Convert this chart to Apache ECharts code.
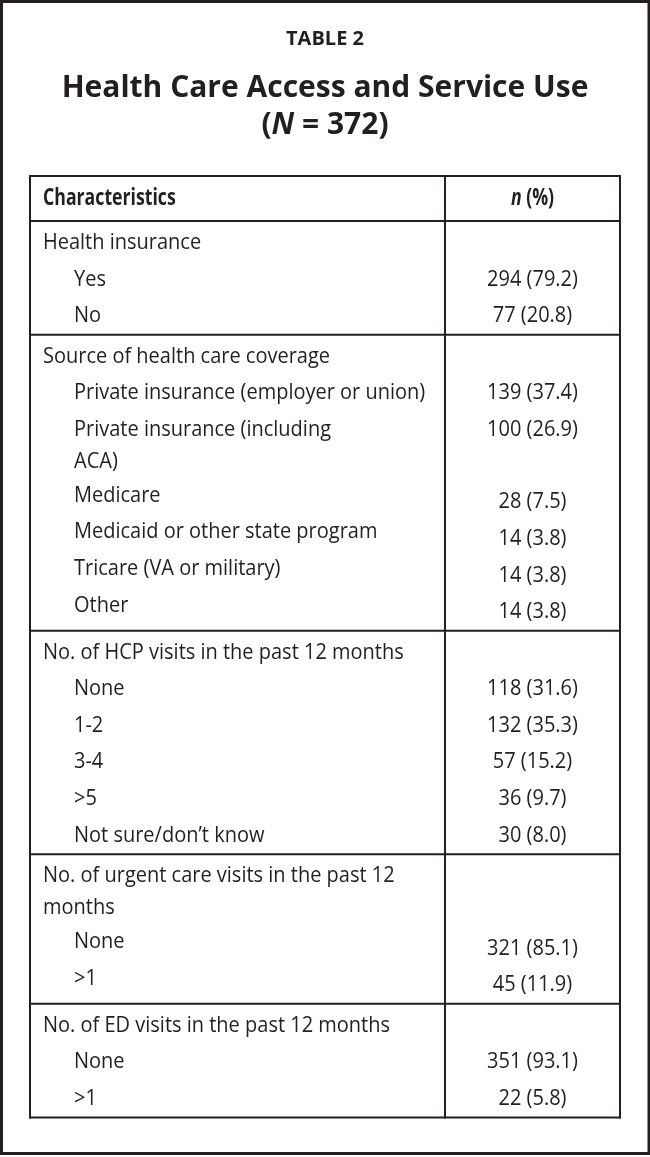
<!DOCTYPE html>
<html><head><meta charset="utf-8">
<script src="https://cdn.jsdelivr.net/npm/echarts@6/dist/echarts.min.js"></script>
<style>html,body{margin:0;padding:0;background:#fff}#c{width:650px;height:1157px}</style>
</head><body><div id="c"></div>
<script>
// ---------- DATA ----------
const tableNumber = 'TABLE 2';
const tableTitle = 'Health Care Access and Service Use';
const sampleSize = 372;
const columnHeaders = ['Characteristics', 'n (%)'];
const groupLabels = [
  'Health insurance',
  'Source of health care coverage',
  'No. of HCP visits in the past 12 months',
  'No. of urgent care visits in the past 12\nmonths',
  'No. of ED visits in the past 12 months'
];
const itemLabels = [
  ['Yes', 'No'],
  ['Private insurance (employer or union)', 'Private insurance (including\nACA)', 'Medicare',
   'Medicaid or other state program', 'Tricare (VA or military)', 'Other'],
  ['None', '1-2', '3-4', '>5', 'Not sure/don\u2019t know'],
  ['None', '>1'],
  ['None', '>1']
];
const itemCounts = [[294, 77], [139, 100, 28, 14, 14, 14], [118, 132, 57, 36, 30], [321, 45], [351, 22]];
const itemPercents = [[79.2, 20.8], [37.4, 26.9, 7.5, 3.8, 3.8, 3.8], [31.6, 35.3, 15.2, 9.7, 8.0], [85.1, 11.9], [93.1, 5.8]];

// ---------- LAYOUT ----------
const L = {
  tableLeft: 30, tableRight: 620, colDiv: 445, tableTop: 176, headerBottom: 221,
  groupX: 43, itemX: 74, valueX: 532.5,
  pitch: 36.6, wrapPitch: 32, afterWrapPitch: 34, sepToText: 22, textToSep: 18.5, wrapValueNudge: 6.5
};
const INK = '#231f20';
const FONT = '"Open Sans", "Noto Sans", sans-serif';
const styles = {
  header: { fontSize: 22.4, fontWeight: 'bold', scaleX: 0.79, align: 'left' },
  headerValue: { fontSize: 22.4, fontWeight: 'bold', scaleX: 0.79, align: 'center' },
  group: { fontSize: 21, fontWeight: 'normal', scaleX: 0.952, align: 'left' },
  item: { fontSize: 21, fontWeight: 'normal', scaleX: 0.952, align: 'left' },
  value: { fontSize: 21, fontWeight: 'normal', scaleX: 0.952, align: 'center' }
};

// ---------- BUILD CELLS ----------
const textCells = [];
const rules = [];
const headerMid = (L.tableTop + L.headerBottom) / 2;
textCells.push({ x: L.groupX, y: headerMid, text: columnHeaders[0], kind: 'header' });
textCells.push({ x: L.valueX, y: headerMid, text: '{i|n} (%)', kind: 'headerValue' });

let sepY = L.headerBottom;
const seps = [];
groupLabels.forEach((g, gi) => {
  let cy = sepY + L.sepToText;
  let wrapped = false;
  let maxY = cy;
  g.split('\n').forEach((line, li) => {
    if (li > 0) { cy += L.wrapPitch; wrapped = true; }
    textCells.push({ x: L.groupX, y: cy, text: line, kind: 'group' });
  });
  maxY = cy;
  let prevWrapped = wrapped;
  itemLabels[gi].forEach((lab, ii) => {
    cy += prevWrapped && ii === 0 || prevWrapped === 'item' ? L.afterWrapPitch : L.pitch;
    if (prevWrapped === 'item') prevWrapped = true;
    const nudge = wrapped ? L.wrapValueNudge : 0;
    const vy = cy + nudge;
    textCells.push({ x: L.valueX, y: vy, text: itemCounts[gi][ii] + ' (' + itemPercents[gi][ii].toFixed(1) + ')', kind: 'value' });
    const lines = lab.split('\n');
    lines.forEach((line, li) => {
      if (li > 0) cy += L.wrapPitch;
      textCells.push({ x: L.itemX, y: cy, text: line, kind: 'item' });
    });
    if (lines.length > 1) { wrapped = true; prevWrapped = 'item'; }
    maxY = Math.max(cy, vy);
  });
  sepY = maxY + L.textToSep;
  seps.push(sepY);
});
const tableBottom = seps[seps.length - 1];

rules.push([L.tableLeft, L.tableTop, L.tableRight, L.tableTop]);
rules.push([L.tableLeft, L.headerBottom, L.tableRight, L.headerBottom]);
seps.forEach(s => rules.push([L.tableLeft, s, L.tableRight, s]));
rules.push([L.tableLeft, L.tableTop, L.tableLeft, tableBottom]);
rules.push([L.colDiv, L.tableTop, L.colDiv, tableBottom]);
rules.push([L.tableRight, L.tableTop, L.tableRight, tableBottom]);

// ---------- CHART ----------
const chart = echarts.init(document.getElementById('c'), null, { renderer: 'canvas' });
chart.setOption({
  animation: false,
  backgroundColor: '#fff',
  grid: { left: 0, right: 0, top: 0, bottom: 0 },
  xAxis: { type: 'value', min: 0, max: 650, show: false, splitLine: { show: false } },
  yAxis: { type: 'value', min: 0, max: 1157, inverse: true, show: false, splitLine: { show: false } },
  graphic: [
    { type: 'rect', shape: { x: 1.5, y: 1.5, width: 647.5, height: 1152 }, style: { fill: 'none', stroke: INK, lineWidth: 3 }, silent: true },
    { type: 'text', x: 325, y: 39, style: { text: tableNumber, fill: INK, fontFamily: FONT, fontSize: 20, fontWeight: 'bold', align: 'center', verticalAlign: 'middle' } },
    { type: 'text', x: 325, y: 88, style: { text: tableTitle, fill: INK, fontFamily: FONT, fontSize: 30, fontWeight: 'bold', align: 'center', verticalAlign: 'middle' } },
    { type: 'text', x: 325, y: 125, style: { text: '({i|N} = ' + sampleSize + ')', fill: INK, fontFamily: FONT, fontSize: 30, fontWeight: 'bold', align: 'center', verticalAlign: 'middle',
      rich: { i: { fontStyle: 'italic', fontFamily: FONT, fontSize: 30, fontWeight: 'bold', fill: INK } } } }
  ],
  series: [
    {
      type: 'custom', name: 'rules', silent: true,
      data: rules.map(r => [r[0], r[1], r[2], r[3]]),
      encode: { x: [0, 2], y: [1, 3] },
      renderItem: (params, api) => {
        const r = rules[params.dataIndex];
        const a = api.coord([r[0], r[1]]), b = api.coord([r[2], r[3]]);
        return { type: 'line', shape: { x1: a[0], y1: a[1], x2: b[0], y2: b[1] }, style: { stroke: INK, lineWidth: 2, lineCap: 'square' } };
      }
    },
    {
      type: 'custom', name: 'cells', silent: true,
      data: textCells.map(c => [c.x, c.y]),
      encode: { x: 0, y: 1 },
      renderItem: (params, api) => {
        const c = textCells[params.dataIndex];
        const st = styles[c.kind];
        const p = api.coord([c.x, c.y]);
        return {
          type: 'text', x: p[0], y: p[1], scaleX: st.scaleX,
          style: {
            text: c.text, fill: INK, fontFamily: FONT, fontSize: st.fontSize, fontWeight: st.fontWeight,
            align: st.align, verticalAlign: 'middle',
            rich: { i: { fontStyle: 'italic', fontFamily: FONT, fontSize: st.fontSize, fontWeight: st.fontWeight, fill: INK } }
          }
        };
      }
    }
  ]
});
</script>
</body></html>
